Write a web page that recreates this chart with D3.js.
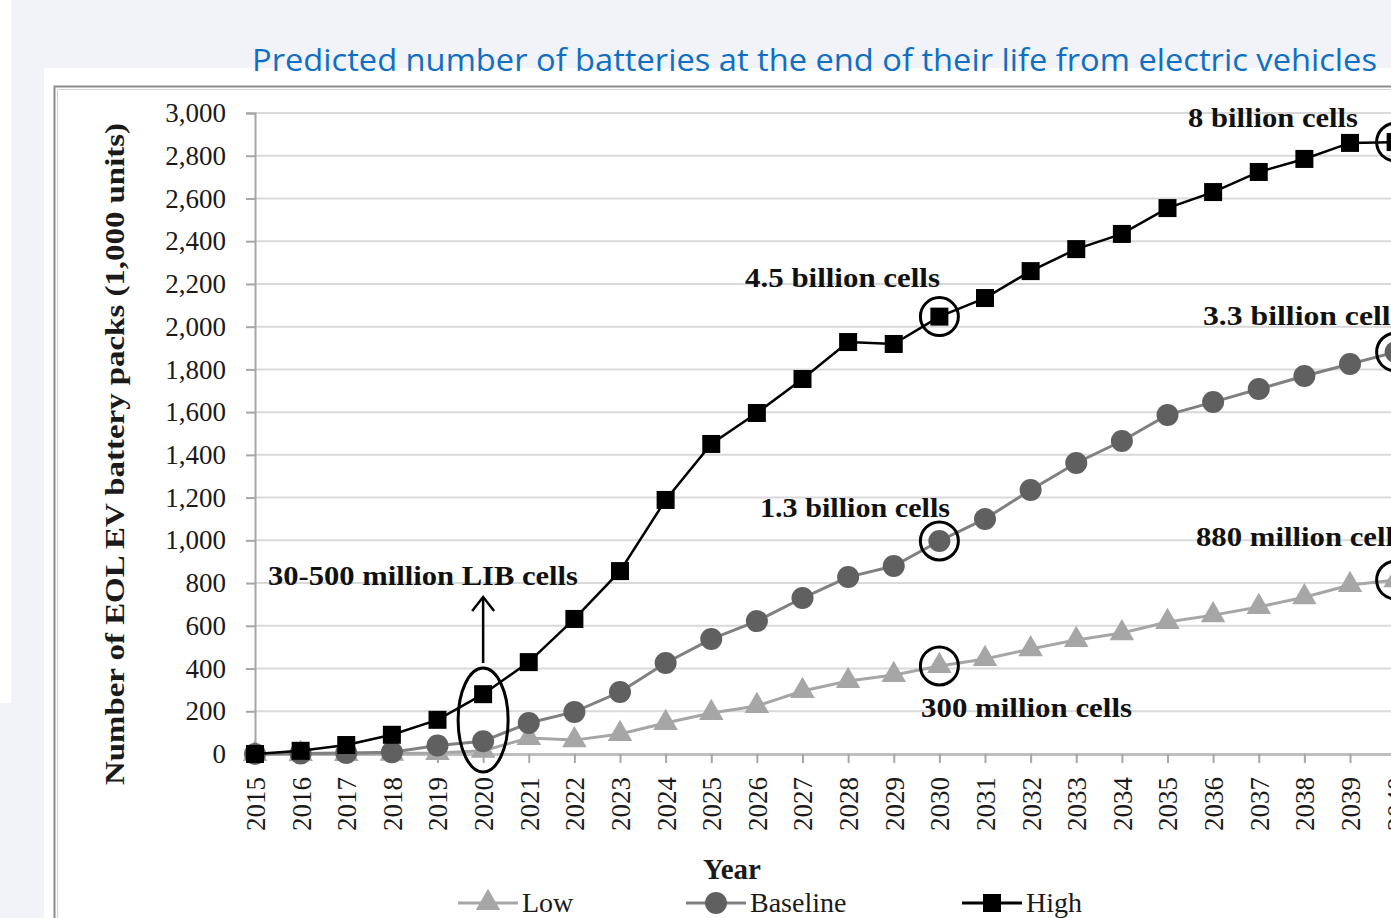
<!DOCTYPE html>
<html>
<head>
<meta charset="utf-8">
<script src="https://cdn.jsdelivr.net/npm/d3@7"></script>
<style>
  html, body { margin: 0; padding: 0; background: #f2f3f8; }
  svg { display: block; }
</style>
</head>
<body>
<svg id="chart" width="1391" height="918"></svg>
<script>
const years = d3.range(2015, 2041);
const lowValues = [0, 0, 0, 2, 5, 15, 75, 65, 94, 145, 192, 225, 295, 342, 370, 412, 445, 491, 534, 566, 618, 650, 688, 734, 791, 814];
const baselineValues = [0, 2, 5, 8, 40, 60, 145, 197, 290, 426, 538, 622, 730, 828, 880, 997, 1100, 1236, 1362, 1465, 1587, 1647, 1708, 1769, 1825, 1881];
const highValues = [0, 15, 42, 90, 160, 280, 430, 632, 856, 1189, 1451, 1596, 1755, 1928, 1919, 2047, 2134, 2260, 2363, 2434, 2555, 2630, 2724, 2785, 2860, 2864];
const yTicks = d3.range(0, 3001, 200);
const seriesNames = ["Low", "Baseline", "High"];
const titleText = "Predicted number of batteries at the end of their life from electric vehicles";
const yTitle = "Number of EOL EV battery packs (1,000 units)";
const xTitle = "Year";
const annotations = [
  {text: "30-500 million LIB cells", x: 268, y: 585, w: 310},
  {text: "4.5 billion cells", x: 745, y: 287, w: 195},
  {text: "1.3 billion cells", x: 760, y: 517, w: 190},
  {text: "300 million cells", x: 921, y: 717, w: 211},
  {text: "8 billion cells", x: 1188, y: 127, w: 170},
  {text: "3.3 billion cells", x: 1203, y: 325, w: 200},
  {text: "880 million cells", x: 1196, y: 546, w: 210}
];

const svg = d3.select("#chart");
const serif = "'Liberation Serif', 'Times New Roman', serif";

// backgrounds
svg.append("rect").attr("x", 0).attr("y", 0).attr("width", 1391).attr("height", 918).attr("fill", "#f2f3f8");
svg.append("rect").attr("x", 0).attr("y", 0).attr("width", 11).attr("height", 703).attr("fill", "#ffffff");
svg.append("rect").attr("x", 44).attr("y", 68).attr("width", 1347).attr("height", 850).attr("fill", "#ffffff");
// frame
svg.append("path").attr("d", "M54.5,918 V86.5 H1391").attr("fill", "none").attr("stroke", "#8c8c8c").attr("stroke-width", 2);
svg.append("path").attr("d", "M57.5,918 V89.5 H1391").attr("fill", "none").attr("stroke", "#d0d0d0").attr("stroke-width", 1);

// title
svg.append("text").attr("x", 252).attr("y", 71)
  .attr("font-family", "'Open Sans', 'Noto Sans', sans-serif").attr("font-size", 31)
  .attr("fill", "#0f6fc2").attr("textLength", 1125).attr("lengthAdjust", "spacingAndGlyphs")
  .text(titleText);

const x = d3.scaleLinear().domain([2015, 2040]).range([255, 255 + 25 * 45.625]);
const y = d3.scaleLinear().domain([0, 3000]).range([754, 113]);

// gridlines
svg.append("g").selectAll("line").data(yTicks.filter(d => d > 0)).join("line")
  .attr("x1", 255).attr("x2", 1391).attr("y1", d => y(d)).attr("y2", d => y(d))
  .attr("stroke", "#d9d9d9").attr("stroke-width", 2);

// y axis
const yAxis = svg.append("g").attr("transform", "translate(255,0)")
  .call(d3.axisLeft(y).tickValues(yTicks).tickFormat(d3.format(",")).tickSize(9).tickPadding(20));
yAxis.select(".domain").attr("stroke", "#a6a6a6").attr("stroke-width", 2);
yAxis.selectAll(".tick line").attr("stroke", "#a6a6a6").attr("stroke-width", 2);
yAxis.selectAll(".tick text").attr("font-family", serif).attr("font-size", 27).attr("fill", "#1a1a1a");

// x axis
const xAxis = svg.append("g").attr("transform", "translate(0,754)")
  .call(d3.axisBottom(x).tickValues(years).tickFormat(d => String(d)).tickSize(9));
xAxis.select(".domain").attr("stroke", "#bfbfbf").attr("stroke-width", 3);
xAxis.selectAll(".tick line").attr("stroke", "#a6a6a6").attr("stroke-width", 2);
xAxis.selectAll(".tick text")
  .attr("font-family", serif).attr("font-size", 27).attr("fill", "#1a1a1a")
  .attr("text-anchor", "end").attr("transform", "rotate(-90)")
  .attr("x", -23).attr("y", 0).attr("dy", "0.35em");

// axis titles
svg.append("text").attr("transform", "translate(124,454) rotate(-90)")
  .attr("text-anchor", "middle").attr("font-family", serif).attr("font-weight", "bold")
  .attr("font-size", 28).attr("fill", "#1a1a1a").attr("textLength", 662).attr("lengthAdjust", "spacingAndGlyphs")
  .text(yTitle);
svg.append("text").attr("x", 732).attr("y", 879).attr("text-anchor", "middle")
  .attr("font-family", serif).attr("font-weight", "bold").attr("font-size", 29).attr("fill", "#1a1a1a")
  .text(xTitle);

const line = d3.line().x((d, i) => x(years[i])).y(d => y(d));
const triangle = d3.symbol().type(d3.symbolTriangle).size(260);

// Low series
svg.append("path").datum(lowValues).attr("d", line).attr("fill", "none").attr("stroke", "#a6a6a6").attr("stroke-width", 3);
svg.append("g").selectAll("path").data(lowValues).join("path")
  .attr("d", triangle).attr("transform", (d, i) => `translate(${x(years[i])},${y(d)})`).attr("fill", "#a6a6a6");

// Baseline series
svg.append("path").datum(baselineValues).attr("d", line).attr("fill", "none").attr("stroke", "#808080").attr("stroke-width", 3);
svg.append("g").selectAll("circle").data(baselineValues).join("circle")
  .attr("cx", (d, i) => x(years[i])).attr("cy", d => y(d)).attr("r", 11).attr("fill", "#606060");

// High series
svg.append("path").datum(highValues).attr("d", line).attr("fill", "none").attr("stroke", "#000").attr("stroke-width", 2.5);
svg.append("g").selectAll("rect").data(highValues).join("rect")
  .attr("x", (d, i) => x(years[i]) - 9).attr("y", d => y(d) - 9).attr("width", 18).attr("height", 18).attr("fill", "#000");

// annotation circles
const i2030 = years.indexOf(2030), i2040 = years.indexOf(2040);
[[i2030, highValues], [i2030, baselineValues], [i2030, lowValues], [i2040, highValues], [i2040, baselineValues], [i2040, lowValues]]
  .forEach(([i, arr]) => {
    svg.append("circle").attr("cx", x(years[i])).attr("cy", y(arr[i])).attr("r", 19)
      .attr("fill", "none").attr("stroke", "#000").attr("stroke-width", 3);
  });
// ellipse around 2020
svg.append("ellipse").attr("cx", x(2020)).attr("cy", 720).attr("rx", 25).attr("ry", 52)
  .attr("fill", "none").attr("stroke", "#000").attr("stroke-width", 3);
// arrow
svg.append("line").attr("x1", x(2020)).attr("x2", x(2020)).attr("y1", 663).attr("y2", 598).attr("stroke", "#000").attr("stroke-width", 2.5);
svg.append("path").attr("d", `M${x(2020) - 11},${611} L${x(2020)},${597} L${x(2020) + 11},${611}`)
  .attr("fill", "none").attr("stroke", "#000").attr("stroke-width", 2.5);

// annotation texts
svg.append("g").selectAll("text").data(annotations).join("text")
  .attr("x", d => d.x).attr("y", d => d.y)
  .attr("font-family", serif).attr("font-weight", "bold").attr("font-size", 27).attr("fill", "#111")
  .attr("textLength", d => d.w).attr("lengthAdjust", "spacingAndGlyphs")
  .text(d => d.text);

// legend
const legend = svg.append("g");
const legendItems = [
  {name: seriesNames[0], x0: 458, color: "#a6a6a6", mark: "tri"},
  {name: seriesNames[1], x0: 686, color: "#808080", mark: "circle"},
  {name: seriesNames[2], x0: 962, color: "#000", mark: "square"}
];
legendItems.forEach(it => {
  const cy = 903;
  legend.append("line").attr("x1", it.x0).attr("x2", it.x0 + 60).attr("y1", cy).attr("y2", cy)
    .attr("stroke", it.color).attr("stroke-width", 3);
  const cx = it.x0 + 30;
  if (it.mark === "tri") legend.append("path").attr("d", triangle).attr("transform", `translate(${cx},${cy})`).attr("fill", "#a6a6a6");
  if (it.mark === "circle") legend.append("circle").attr("cx", cx).attr("cy", cy).attr("r", 11).attr("fill", "#606060");
  if (it.mark === "square") legend.append("rect").attr("x", cx - 9).attr("y", cy - 9).attr("width", 18).attr("height", 18).attr("fill", "#000");
  legend.append("text").attr("x", it.x0 + 64).attr("y", cy + 9).attr("font-family", serif)
    .attr("font-size", 28).attr("fill", "#1a1a1a").text(it.name);
});
</script>
</body>
</html>
